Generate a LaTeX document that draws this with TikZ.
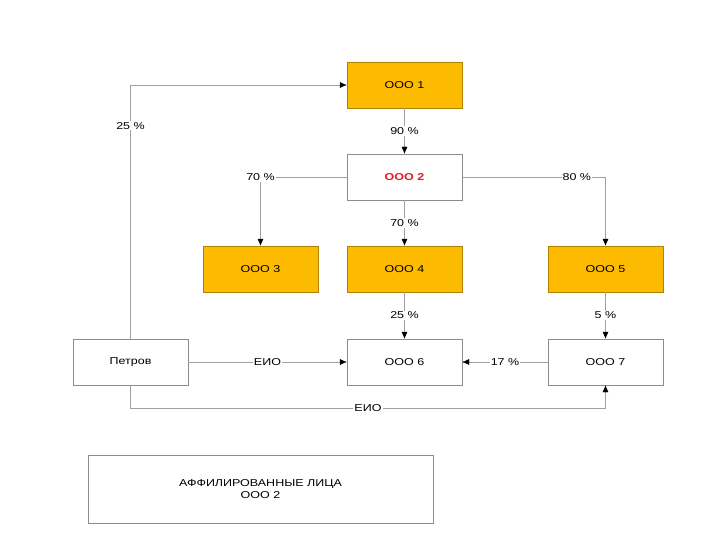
\documentclass[tikz,border=0pt]{standalone}
\usepackage{fontspec}
\setmainfont{Liberation Sans}[FakeStretch=1.25]
\usepackage{xcolor}
\usepackage{tikz}
\usetikzlibrary{arrows.meta}

\definecolor{boxgold}{RGB}{252,186,0}
\definecolor{linegray}{RGB}{160,160,160}
\definecolor{framegray}{RGB}{140,140,140}
\definecolor{ooored}{RGB}{220,30,40}

\tikzset{
  firm/.style={draw=framegray, fill=white, minimum width=115pt, minimum height=46pt,
    inner sep=0pt, font=\fontsize{10}{12}\selectfont},
  goldfirm/.style={firm, fill=boxgold, draw=boxgold!70!black},
  conn/.style={draw=linegray, -{Latex[length=7pt,width=6pt,black]}},
  share/.style={fill=white, inner sep=1pt, font=\fontsize{10}{12}\selectfont},
}

\begin{document}
\begin{tikzpicture}[x=1pt,y=-1pt]
    \useasboundingbox (0,0) rectangle (720,540);

    % companies
    \node[goldfirm] (o1) at (404.5,85) {ООО 1};
    \node[firm] (o2) at (404.5,177) {\textcolor{ooored}{\bfseries ООО 2}};
    \node[goldfirm] (o3) at (260.5,269) {ООО 3};
    \node[goldfirm] (o4) at (404.5,269) {ООО 4};
    \node[goldfirm] (o5) at (605.5,269) {ООО 5};
    \node[firm] (petrov) at (130.5,362) {Петров};
    \node[firm] (o6) at (404.5,362) {ООО 6};
    \node[firm] (o7) at (605.5,362) {ООО 7};

    % legend box
    \node[firm, minimum width=345pt, minimum height=68pt, align=center] (aff) at (260.5,489)
        {АФФИЛИРОВАННЫЕ ЛИЦА\\ООО 2};

    % shares
    \draw[conn] (o1) -- node[share] {90 \%} (o2);
    \draw[conn] (o2.west) -| node[share] {70 \%} (o3.north);
    \draw[conn] (o2) -- node[share] {70 \%} (o4);
    \draw[conn] (o2.east) -| node[share, pos=0.4] {80 \%} (o5.north);
    \draw[conn] (o4) -- node[share] {25 \%} (o6);
    \draw[conn] (o5) -- node[share] {5 \%} (o7);
    \draw[conn] (o7) -- node[share] {17 \%} (o6);
    \draw[conn] (petrov.north) |- node[share, pos=0.42] {25 \%} (o1.west);

    % management
    \coordinate (bl) at (130.5,408);
    \coordinate (br) at (605.5,408);
    \draw[conn] (petrov) -- node[share] {ЕИО} (o6);
    \draw[conn] (petrov.south) -- (bl) -- node[share] {ЕИО} (br) -- (o7.south);
\end{tikzpicture}
\end{document}
